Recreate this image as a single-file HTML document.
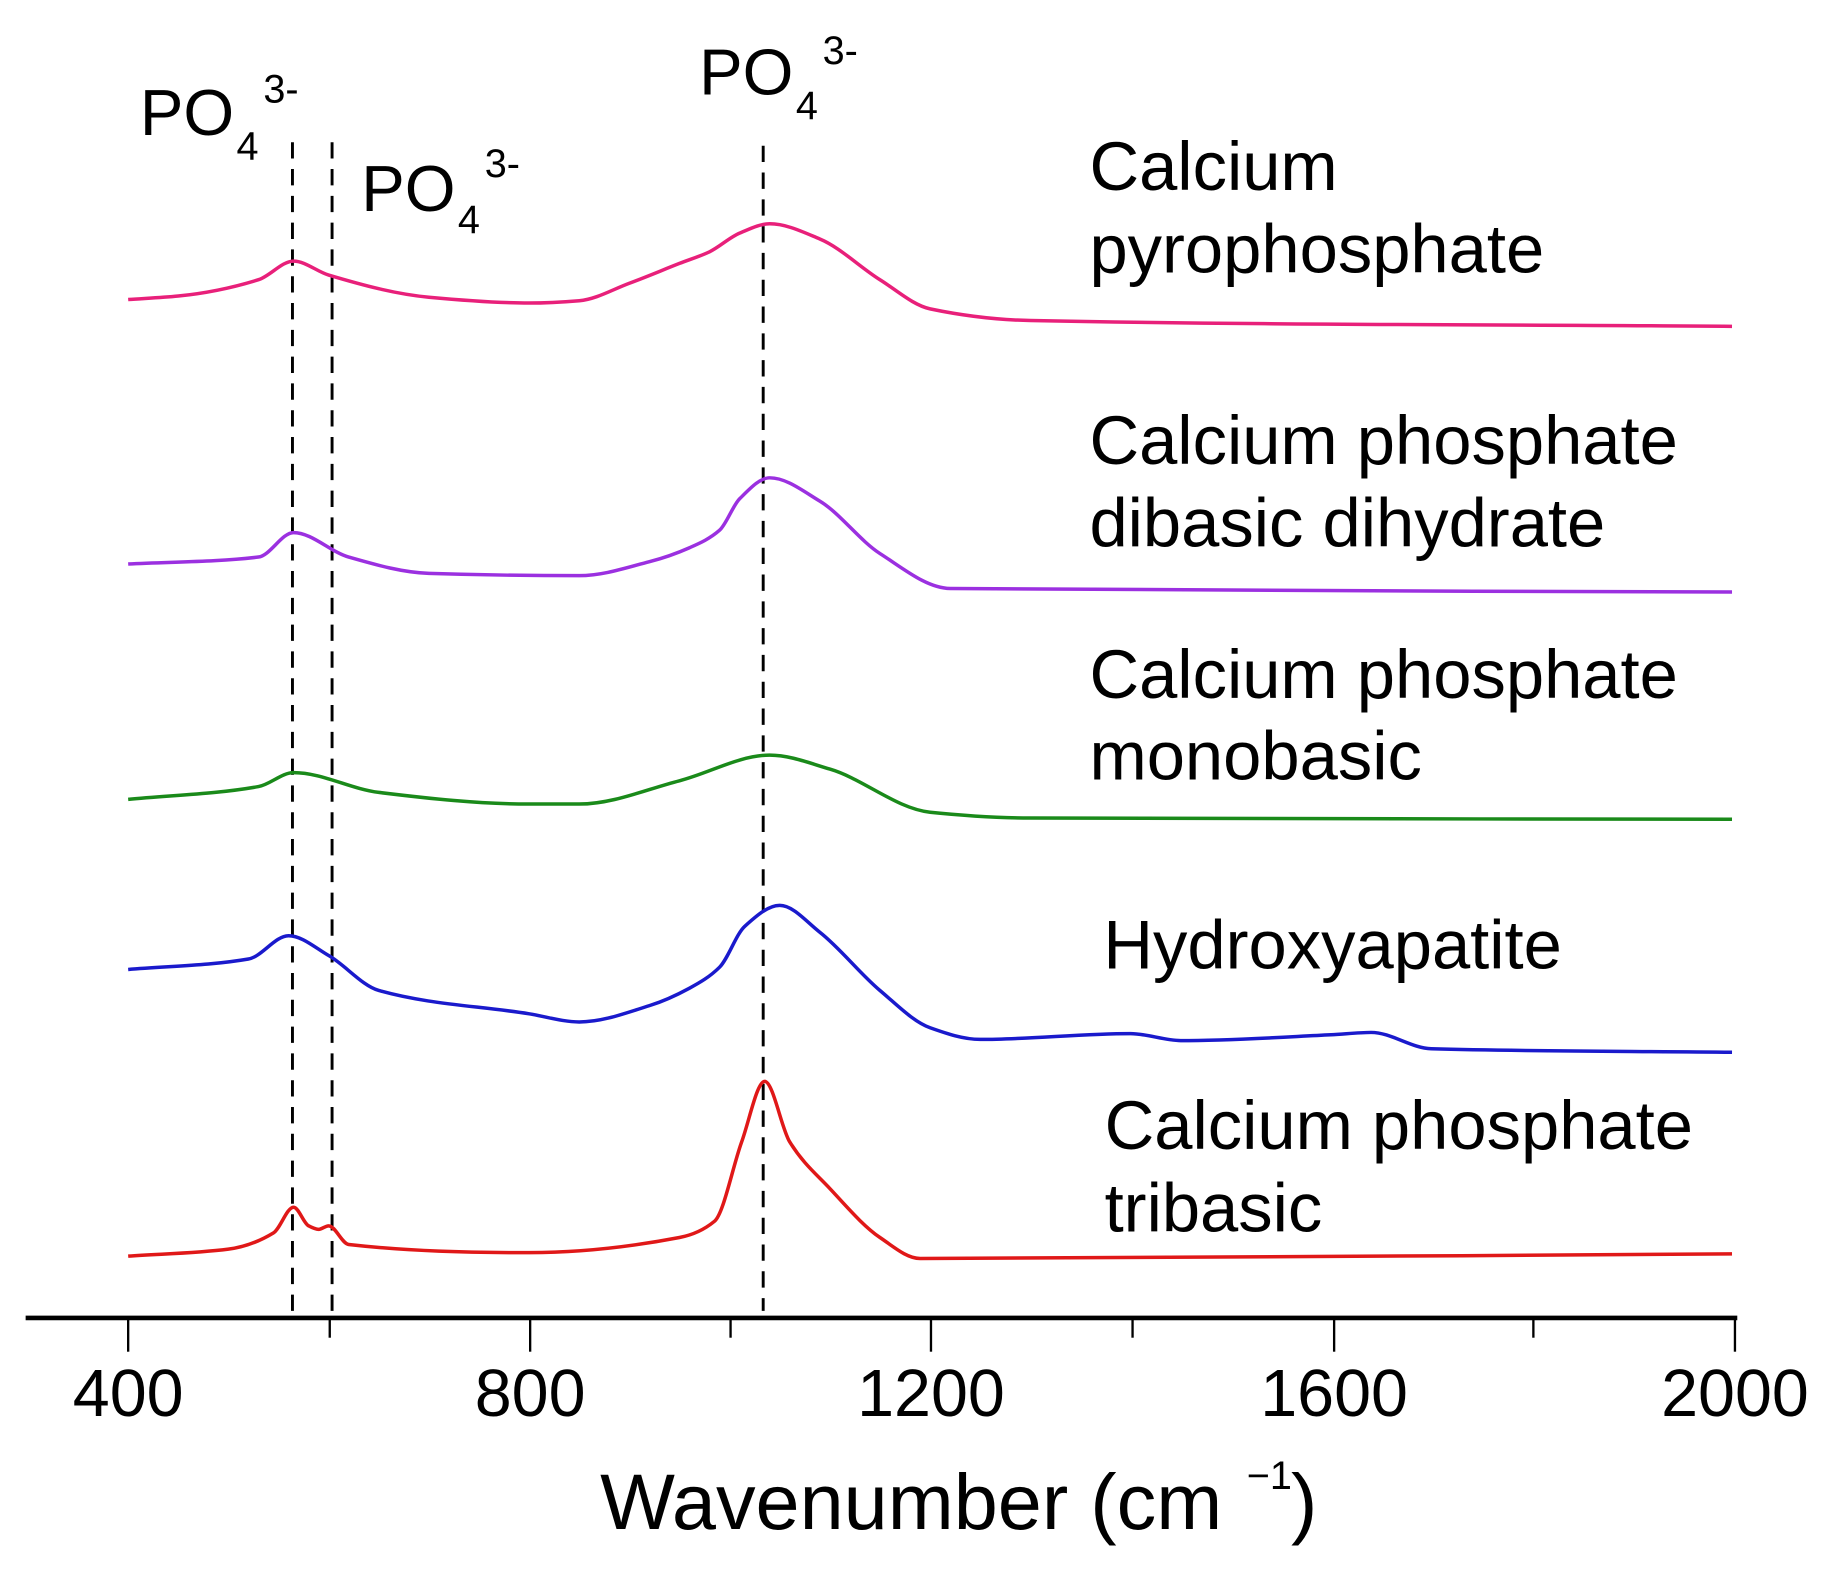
<!DOCTYPE html>
<html><head><meta charset="utf-8"><style>
html,body{margin:0;padding:0;background:#fff;}
svg{display:block;}
text{font-family:"Liberation Sans",Arial,sans-serif;fill:#000;}
</style></head><body>
<svg id="s" width="1827" height="1572" viewBox="0 0 1568 1349" xmlns="http://www.w3.org/2000/svg">
<g stroke="#000" stroke-width="2.5" stroke-dasharray="14,9" fill="none">
<line x1="251" y1="122" x2="251" y2="1125"/>
<line x1="285" y1="122" x2="285" y2="1125"/>
<line x1="655" y1="125" x2="655" y2="1125"/>
</g>
<g id="curves" fill="none" stroke-width="3" stroke-linejoin="round"></g>
<line x1="22" y1="1131" x2="1491" y2="1131" stroke="#000" stroke-width="4"/>
<g stroke="#000" stroke-width="2">
<line x1="110" y1="1131" x2="110" y2="1160"/><line x1="455" y1="1131" x2="455" y2="1160"/>
<line x1="799" y1="1131" x2="799" y2="1160"/><line x1="1145" y1="1131" x2="1145" y2="1160"/>
<line x1="1489" y1="1131" x2="1489" y2="1160"/>
<line x1="283" y1="1131" x2="283" y2="1148"/><line x1="627" y1="1131" x2="627" y2="1148"/>
<line x1="972" y1="1131" x2="972" y2="1148"/><line x1="1316" y1="1131" x2="1316" y2="1148"/>
</g>
<g font-size="57" text-anchor="middle">
<text x="110" y="1215">400</text><text x="455" y="1215">800</text><text x="799" y="1215">1200</text>
<text x="1145" y="1215">1600</text><text x="1489" y="1215">2000</text>
</g>
<text x="515" y="1312" font-size="68">Wavenumber (cm</text>
<text x="1070" y="1278" font-size="34">−1</text>
<text x="1108" y="1312" font-size="68">)</text>
<g font-size="56">
<text x="120" y="116">PO</text><text x="203" y="137" font-size="34">4</text><text x="226" y="88" font-size="34">3-</text>
<text x="310" y="181">PO</text><text x="393" y="200" font-size="34">4</text><text x="416" y="152" font-size="34">3-</text>
<text x="600" y="81">PO</text><text x="683" y="102" font-size="34">4</text><text x="706" y="55" font-size="34">3-</text>
</g>
<g font-size="59">
<text x="935" y="163">Calcium</text><text x="935" y="234">pyrophosphate</text>
<text x="935" y="398">Calcium phosphate</text><text x="935" y="469">dibasic dihydrate</text>
<text x="935" y="599">Calcium phosphate</text><text x="935" y="669">monobasic</text>
<text x="947" y="831">Hydroxyapatite</text>
<text x="948" y="986">Calcium phosphate</text><text x="948" y="1057">tribasic</text>
</g>
</svg>
<script>
function X(w){return 110+(w-400)*0.8603;}
var S=[
["#e8207a",[[400,257],[450,254],[530,240],[565,224],[600,236],[700,255],[800,260],[850,258],[900,243],[950,226],[980,216],[1010,200],[1040,192],[1090,205],[1150,240],[1200,265],[1300,275],[2000,280]]],
["#9b30e0",[[400,484],[530,478],[565,457],[620,478],[700,492],[850,494],[920,482],[960,470],[990,455],[1010,428],[1040,410],[1090,430],[1150,475],[1220,505],[2000,508]]],
["#1a8a1a",[[400,686],[530,675],[565,663],[650,680],[800,690],[850,690],[950,670],[1040,648],[1100,660],[1200,697],[1300,702],[2000,703]]],
["#1a1acc",[[400,832],[520,823],[560,803],[600,820],[650,850],[800,870],[850,877],[920,863],[960,848],[990,830],[1015,795],[1050,777],[1090,800],[1150,850],[1200,882],[1250,892],[1400,887],[1450,893],[1600,888],[1640,886],[1700,900],[2000,903]]],
["#e01818",[[400,1078],[500,1072],[545,1058],[565,1036],[580,1052],[590,1055],[600,1052],[620,1068],[800,1075],[950,1062],[985,1048],[1012,980],[1035,928],[1060,980],[1100,1020],[1150,1062],[1190,1080],[2000,1076]]]
];
var g=document.getElementById('curves'),ns="http://www.w3.org/2000/svg";
S.forEach(function(s){
 var p=s[1].map(function(q){return [X(q[0]),q[1]];});
 var n=p.length,dx=[],m=[],t=[];
 for(var i=0;i<n-1;i++){dx[i]=p[i+1][0]-p[i][0];m[i]=(p[i+1][1]-p[i][1])/dx[i];}
 t[0]=m[0];t[n-1]=m[n-2];
 for(var i=1;i<n-1;i++){ if(m[i-1]*m[i]<=0)t[i]=0; else {var w1=2*dx[i]+dx[i-1],w2=dx[i]+2*dx[i-1];t[i]=(w1+w2)/(w1/m[i-1]+w2/m[i]);} }
 var d="M"+p[0][0]+","+p[0][1];
 for(var i=0;i<n-1;i++){
  var h=dx[i]/3;
  d+=" C"+(p[i][0]+h)+","+(p[i][1]+t[i]*h)+" "+(p[i+1][0]-h)+","+(p[i+1][1]-t[i+1]*h)+" "+p[i+1][0]+","+p[i+1][1];
 }
 var e=document.createElementNS(ns,"path");e.setAttribute("d",d);e.setAttribute("stroke",s[0]);g.appendChild(e);
});
</script>
</body></html>
